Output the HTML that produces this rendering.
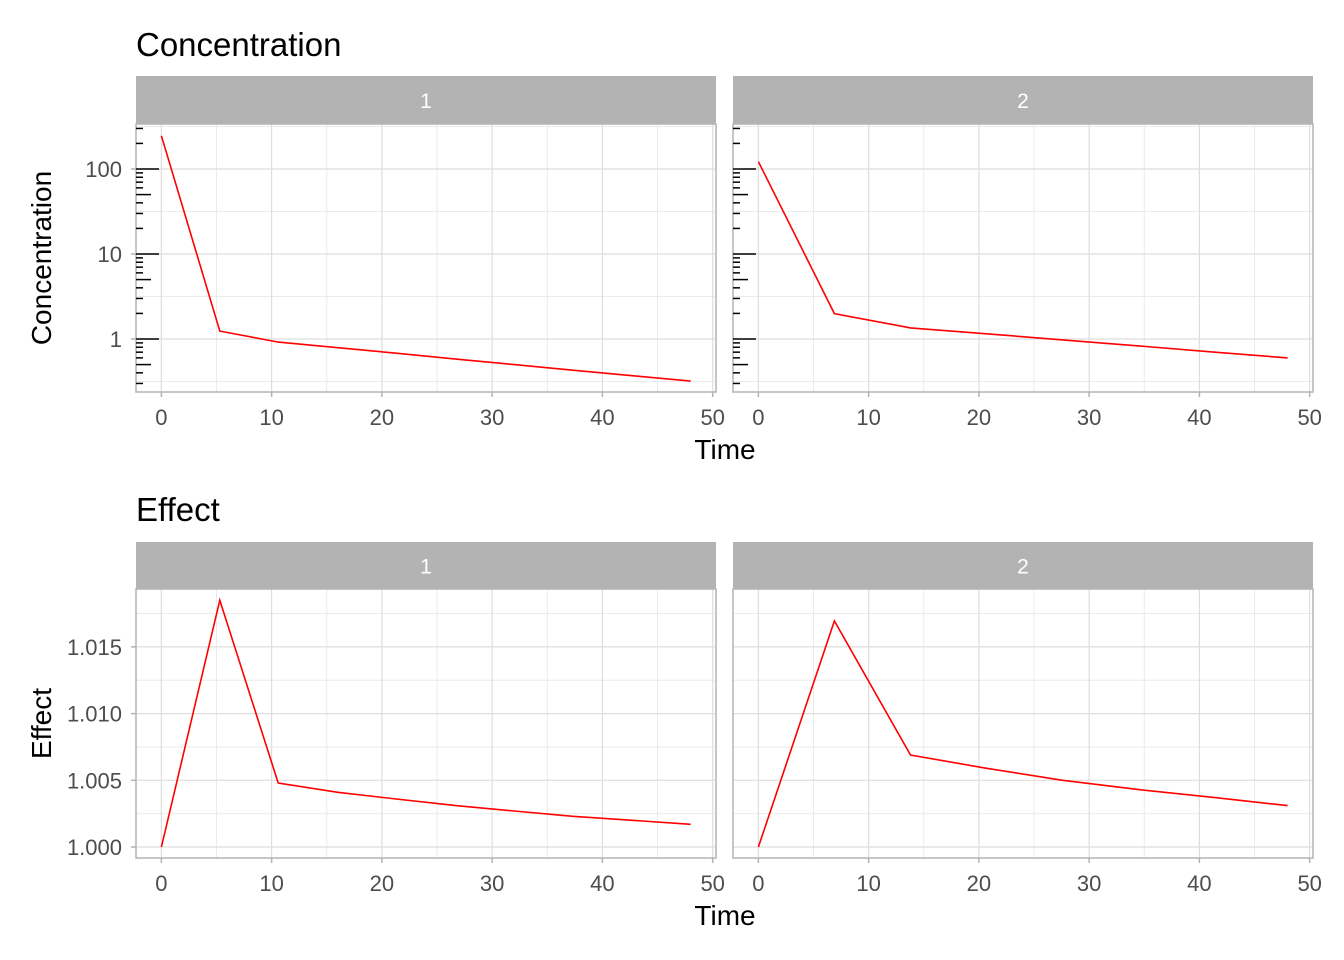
<!DOCTYPE html>
<html><head><meta charset="utf-8">
<style>
html,body{margin:0;padding:0;background:#fff;}
svg{display:block;font-family:"Liberation Sans",Arial,sans-serif;}
</style></head>
<body>
<svg id="chart" width="1344" height="960" viewBox="0 0 1344 960"></svg>
<script>
// ---- data ----
const concTime1 = [0, 5.3, 10.6, 16, 21.3, 26.7, 32, 37.3, 42.7, 48];
const concVal1  = [246, 1.24, 0.92, 0.79, 0.68, 0.58, 0.50, 0.43, 0.37, 0.32];
const concTime2 = [0, 6.9, 13.8, 20.7, 27.6, 34.5, 41.4, 48];
const concVal2  = [122, 1.99, 1.35, 1.15, 0.975, 0.83, 0.70, 0.60];
const effTime1 = [0, 5.3, 10.6, 16, 21.3, 26.7, 32, 37.3, 42.7, 48];
const effVal1  = [1.000, 1.0185, 1.0048, 1.0041, 1.0036, 1.0031, 1.0027, 1.0023, 1.0020, 1.0017];
const effTime2 = [0, 6.9, 13.8, 20.7, 27.6, 34.5, 41.4, 48];
const effVal2  = [1.000, 1.01695, 1.0069, 1.0059, 1.0050, 1.0043, 1.0037, 1.0031];
const xTicks = [0, 10, 20, 30, 40, 50];
const concTicks = [1, 10, 100];
const concTickLabels = ["1", "10", "100"];
const effTicks = [1.000, 1.005, 1.010, 1.015];
const effTickLabels = ["1.000", "1.005", "1.010", "1.015"];
const facetLabels = ["1", "2"];

const NS = "http://www.w3.org/2000/svg";
const svg = document.getElementById('chart');
function mk(tag, attrs, parent, text){
  const e = document.createElementNS(NS, tag);
  for (const k in attrs) e.setAttribute(k, attrs[k]);
  if (text !== undefined) e.textContent = text;
  (parent || svg).appendChild(e);
  return e;
}
const panelsX = [[136, 716], [733, 1313]];
const xMin = -2.3, xMax = 50.3;
function xScale(p){ const [a,b] = panelsX[p]; return v => a + (v - xMin) / (xMax - xMin) * (b - a); }

function drawRow(cfg){
  const g = mk('g', {});
  
  
  const t = mk('text', {x:136, y:cfg.titleY, 'font-size':33, fill:'#000'}, g, cfg.title);
  
  
  for (let p = 0; p < 2; p++){
    const [x0, x1] = panelsX[p];
    const xs = xScale(p);
    const pg = mk('g', {}, g);
    
    
    const s = mk('rect', {x:x0, y:cfg.stripTop, width:x1 - x0, height:cfg.top - cfg.stripTop, fill:'#b3b3b3'}, pg);
    
    
    const st = mk('text', {x:(x0 + x1) / 2, y:(cfg.stripTop + cfg.top) / 2 + 8, 'font-size':21, fill:'#fff', 'text-anchor':'middle'}, pg, facetLabels[p]);
    
    
    cfg.minorY.forEach(v => { const y = cfg.ys(v); mk('line', {x1:x0, x2:x1, y1:y, y2:y, stroke:'#ebebeb', 'stroke-width':1}, pg); });
    for (let v = 5; v <= 45; v += 10){ const x = xs(v); mk('line', {x1:x, x2:x, y1:cfg.top, y2:cfg.bottom, stroke:'#ebebeb', 'stroke-width':1}, pg); }
    cfg.ticks.forEach(v => { const y = cfg.ys(v); mk('line', {x1:x0, x2:x1, y1:y, y2:y, stroke:'#dedede', 'stroke-width':1.2}, pg); });
    xTicks.forEach(v => { const x = xs(v); mk('line', {x1:x, x2:x, y1:cfg.top, y2:cfg.bottom, stroke:'#dedede', 'stroke-width':1.2}, pg); });
    mk('rect', {x:x0, y:cfg.top, width:x1 - x0, height:cfg.bottom - cfg.top, fill:'none', stroke:'#b3b3b3', 'stroke-width':1.5}, pg);
    xTicks.forEach(v => {
      const x = xs(v);
      mk('line', {x1:x, x2:x, y1:cfg.bottom, y2:cfg.bottom + 5, stroke:'#b3b3b3', 'stroke-width':1.5}, pg);
      const lt = mk('text', {x:x, y:cfg.bottom + 33, 'font-size':22, fill:'#4d4d4d', 'text-anchor':'middle'}, pg, String(v));
      
      
    });
    if (p === 0){
      cfg.ticks.forEach((v, i) => {
        const y = cfg.ys(v);
        mk('line', {x1:x0 - 5, x2:x0, y1:y, y2:y, stroke:'#b3b3b3', 'stroke-width':1.5}, pg);
        const yt = mk('text', {x:x0 - 14, y:y + 8, 'font-size':22, fill:'#4d4d4d', 'text-anchor':'end'}, pg, cfg.tickLabels[i]);
        
        
      });
    }
    if (cfg.logticks){
      for (let d = -1; d <= 2; d++){
        for (let m = 1; m <= 9; m++){
          const v = m * Math.pow(10, d);
          if (v < 0.25 || v > 330) continue;
          const y = cfg.ys(v);
          const len = m === 1 ? 23 : (m === 5 ? 15 : 7);
          mk('line', {x1:x0, x2:x0 + len, y1:y, y2:y, stroke:'#000', 'stroke-width':1.5}, pg);
        }
      }
    }
    const tt = cfg.times[p], vv = cfg.vals[p];
    const pts = tt.map((t, i) => xs(t).toFixed(1) + ',' + cfg.ys(vv[i]).toFixed(1)).join(' ');
    const line = mk('polyline', {points:pts, fill:'none', stroke:'#ff0000', 'stroke-width':1.6}, pg);
    
    
  }
  const xt = mk('text', {x:725, y:cfg.bottom + 67, 'font-size':28, fill:'#000', 'text-anchor':'middle'}, g, 'Time');
  
  
  const cy = (cfg.top + cfg.bottom) / 2;
  const yt = mk('text', {x:0, y:0, 'font-size':28, fill:'#000', 'text-anchor':'middle', transform:'translate(51,' + cy + ') rotate(-90)'}, g, cfg.title);
  
  
}

drawRow({
  name:'concentration', title:'Concentration', titleY:56, stripTop:76, top:124, bottom:392,
  ys: v => 339 - Math.log10(v) * 85,
  ticks: concTicks, tickLabels: concTickLabels,
  minorY: [Math.sqrt(0.1), Math.sqrt(10), Math.sqrt(1000), Math.sqrt(100000)].filter(v => v > 0.25 && v < 340),
  logticks: true,
  times: [concTime1, concTime2], vals: [concVal1, concVal2]
});
drawRow({
  name:'effect', title:'Effect', titleY:521, stripTop:542, top:589, bottom:858,
  ys: v => 847 - (v - 1) / 0.005 * 66.7,
  ticks: effTicks, tickLabels: effTickLabels,
  minorY: [1.0025, 1.0075, 1.0125, 1.0175],
  logticks: false,
  times: [effTime1, effTime2], vals: [effVal1, effVal2]
});
</script>
</body></html>
